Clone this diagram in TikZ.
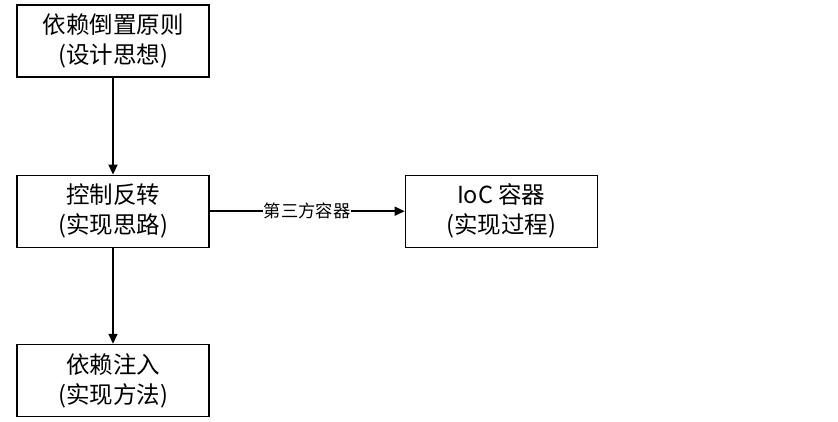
\documentclass[tikz,border=0pt]{standalone}
\usepackage{fontspec}
\setmainfont{Noto Sans CJK SC}
\usetikzlibrary{positioning,arrows.meta}

\tikzset{
  box/.style={draw, line width=1.2pt, minimum width=192pt, minimum height=72pt,
    align=center, inner sep=0pt, font=\fontsize{23.5}{30}\selectfont},
  link/.style={line width=1.6pt, -{Triangle[length=10pt,width=9pt]}}
}

\begin{document}
\begin{tikzpicture}[x=1pt,y=-1pt]
		\useasboundingbox (0,0) rectangle (838,422);
		\node [box] (dip) at (113,41) {依赖倒置原则\\(设计思想)};
		\node [box, below=97pt of dip] (ioc) {控制反转\\(实现思路)};
		\node [box, below=96pt of ioc] (di) {依赖注入\\(实现方法)};
		\node [box, right=195pt of ioc] (cont) {IoC 容器\\(实现过程)};
		\draw [link] (dip) -- (ioc);
		\draw [link] (ioc) -- (di);
		\draw [link] (ioc) -- node [fill=white, inner sep=0.5pt, font=\fontsize{17.3}{17}\selectfont] {第三方容器} (cont);
	\end{tikzpicture}
\end{document}
